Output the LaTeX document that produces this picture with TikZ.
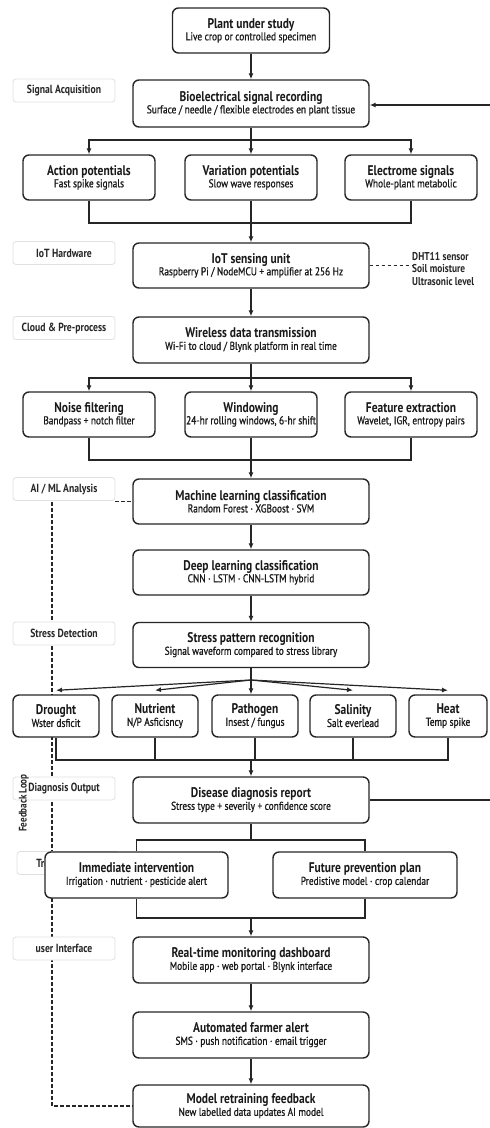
\documentclass[tikz,border=0pt]{standalone}
\usepackage{fontspec}
\setmainfont{PT Sans}[FakeStretch=0.82]
\newfontfamily\subfont{PT Sans}[FakeStretch=0.82, FakeBold=0.9]
\usetikzlibrary{arrows.meta,backgrounds}

\newcommand{\bxt}[2]{{\fontsize{14}{15}\selectfont\bfseries #1}\\[0pt]{\subfont\fontsize{11.4}{14}\selectfont #2}}

\begin{document}
\begin{tikzpicture}[x=1pt, y=-1pt,
    n/.style={draw=black!85, line width=1.4pt, rounded corners=6pt, fill=white,
        minimum width=236pt, minimum height=45pt, align=center, inner sep=1pt, text=black!90},
    lab/.style={draw=black!12, line width=0.8pt, rounded corners=3pt, fill=white,
        minimum width=102pt, minimum height=23pt, text=black!85,
        font=\fontsize{11.8}{13}\selectfont\bfseries},
    con/.style={draw=black!85, line width=1.2pt},
    arr/.style={con, -{Latex[length=6pt,width=5pt]}},
    dsh/.style={draw=black!85, line width=1.1pt, dash pattern=on 3.5pt off 2.5pt}]
    \useasboundingbox (0,0) rectangle (490,1128);

    % main column
    \node[n, minimum width=157pt] (1) at (251,30.5) {\bxt{Plant under study}{Live crop or controlled specimen}};
    \node[n, minimum height=47pt] (2) at (251,103.5) {\bxt{Bioelectrical signal recording}{Surface / needle / flexible electrodes en plant tissue}};
    \node[n, minimum width=132pt] (3) at (89,177.5) {\bxt{Action potentials}{Fast spike signals}};
    \node[n, minimum width=132pt] (4) at (251,177.5) {\bxt{Variation potentials}{Slow wave responses}};
    \node[n, minimum width=132pt] (5) at (411,177.5) {\bxt{Electrome signals}{Whole-plant metabolic}};
    \node[n] (6) at (251,265.5) {\bxt{IoT sensing unit}{Raspberry Pi / NodeMCU + amplifier at 256 Hz}};
    \node[n, minimum height=46pt] (7) at (251,340) {\bxt{Wireless data transmission}{Wi-Fi to cloud / Blynk platform in real time}};
    \node[n, minimum width=132pt] (8) at (89,414.5) {\bxt{Noise filtering}{Bandpass + notch filter}};
    \node[n, minimum width=132pt] (9) at (251,414.5) {\bxt{Windowing}{24-hr rolling windows, 6-hr shift}};
    \node[n, minimum width=132pt] (10) at (411,414.5) {\bxt{Feature extraction}{Wavelet, IGR, entropy pairs}};
    \node[n] (11) at (251,501.5) {\bxt{Machine learning classification}{Random Forest · XGBoost · SVM}};
    \node[n] (12) at (251,572.5) {\bxt{Deep learning classification}{CNN · LSTM · CNN-LSTM hybrid}};
    \node[n] (13) at (251,645) {\bxt{Stress pattern recognition}{Signal waveform compared to stress library}};
    \node[n, minimum width=86pt, minimum height=42pt] (14) at (56,716) {\bxt{Drought}{Wster dsficit}};
    \node[n, minimum width=86pt, minimum height=42pt] (15) at (155,716) {\bxt{Nutrient}{N/P Asficisncy}};
    \node[n, minimum width=86pt, minimum height=42pt] (16) at (255,716) {\bxt{Pathogen}{Insest / fungus}};
    \node[n, minimum width=86pt, minimum height=42pt] (17) at (353,716) {\bxt{Salinity}{Salt everlead}};
    \node[n, minimum width=78pt, minimum height=42pt] (18) at (448,716) {\bxt{Heat}{Temp spike}};
    \node[n, minimum height=46pt] (19) at (251,800) {\bxt{Disease diagnosis report}{Stress type + severily + confidence score}};

    % side labels
    \node[lab] (lab1) at (64,90.5) {Signal Acquisition};
    \node[lab] (lab2) at (64,253) {IoT Hardware};
    \node[lab] (lab3) at (64,328) {Cloud \& Pre-process};
    \node[lab] (lab4) at (64,489) {AI / ML Analysis};
    \node[lab] (lab5) at (64,633.5) {Stress Detection};
    \node[lab] (lab6) at (64,788.5) {Diagnosis Output};
    \node[lab] (lab7) at (68,863) {Treatment Plan};
    \node[lab] (lab8) at (64,948.5) {user Interface};
    \node[rotate=90, text=black!85, font=\fontsize{11}{12}\selectfont\bfseries] (fb) at (24,803) {Feedback Loop};

    \node[n, minimum width=183pt, minimum height=46pt] (20) at (136.5,875) {\bxt{Immediate intervention}{Irrigation · nutrient · pesticide alert}};
    \node[n, minimum width=184pt, minimum height=46pt] (21) at (365,875) {\bxt{Future prevention plan}{Predistive model · crop calendar}};
    \node[n, minimum height=46pt] (22) at (251,960) {\bxt{Real-time monitoring dashboard}{Mobile app · web portal · Blynk interface}};
    \node[n, minimum height=46pt] (23) at (251,1035) {\bxt{Automated farmer alert}{SMS · push notification · email trigger}};
    \node[n, minimum height=42pt] (24) at (251,1106) {\bxt{Model retraining feedback}{New labelled data updates AI model}};

    \node[align=left, anchor=west, inner sep=0pt, text=black!85,
        font=\fontsize{11.4}{12.8}\selectfont\bfseries] (dht) at (412,269) {DHT11 sensor\\Soil moisture\\Ultrasonic level};

    \coordinate (s1) at (251,140);
    \coordinate (m1) at (251,223);
    \coordinate (s2) at (251,378);
    \coordinate (m2) at (251,460);
    \coordinate (f0) at (251,680);
    \coordinate (m3) at (251,760);
    \coordinate (s4) at (251,840);
    \coordinate (m4) at (251,918);
    \coordinate (r1) at (490,105);
    \coordinate (r2) at (490,800);
    \coordinate (fb0) at (52,502);

    \draw[arr] (1) to (2);
    \draw[arr] (2.south) -- (s1) -| (3.north);
    \draw[arr] (s1) -| (5.north);
    \draw[arr] (s1) to (4);
    \draw[con] (3.south) |- (m1) -| (5.south);
    \draw[con] (4) to (m1);
    \draw[arr] (m1) to (6);
    \draw[dsh] (6.east) to (6.east -| dht.west);
    \draw[arr] (r1) to (r1 -| 2.east);

    \draw[arr] (6) to (7);
    \draw[arr] (7.south) -- (s2) -| (8.north);
    \draw[arr] (s2) -| (10.north);
    \draw[arr] (s2) to (9);
    \draw[con] (8.south) |- (m2) -| (10.south);
    \draw[con] (9) to (m2);
    \draw[arr] (m2) to (11);
    \draw[dsh] (11.west -| lab4.east) to (11.west);

    \draw[arr] (11) to (12);
    \draw[arr] (12) to (13);

    \draw[con] (13.south) to (f0);
    \draw[arr] (f0) to ([yshift=4pt]14.north);
    \draw[arr] (f0) to ([yshift=4pt]15.north);
    \draw[arr] (13.south) to (13.south |- 16.north);
    \draw[arr] (f0) to ([yshift=4pt]17.north);
    \draw[arr] (f0) to ([yshift=4pt]18.north);

    \draw[con] (14.south) |- (m3) -| (18.south);
    \draw[con] (15.south) to (15.south |- m3);
    \draw[con] (16.south) to (16.south |- m3);
    \draw[con] (17.south) to (17.south |- m3);
    \draw[arr] (m3) to (19);
    \draw[con] (19.east) to (r2);

    \draw[con] (19.south) -- (s4) -| (20.north);
    \draw[con] (s4) -| (21.north);
    \draw[con] (20.south) |- (m4) -| (21.south);
    \draw[arr] (m4) to (22);
    \draw[arr] (22) to (23);
    \draw[arr] (23) to (24);

    \begin{scope}[on background layer]
        \draw[dsh] (fb0) |- (24.west);
    \end{scope}
\end{tikzpicture}
\end{document}
